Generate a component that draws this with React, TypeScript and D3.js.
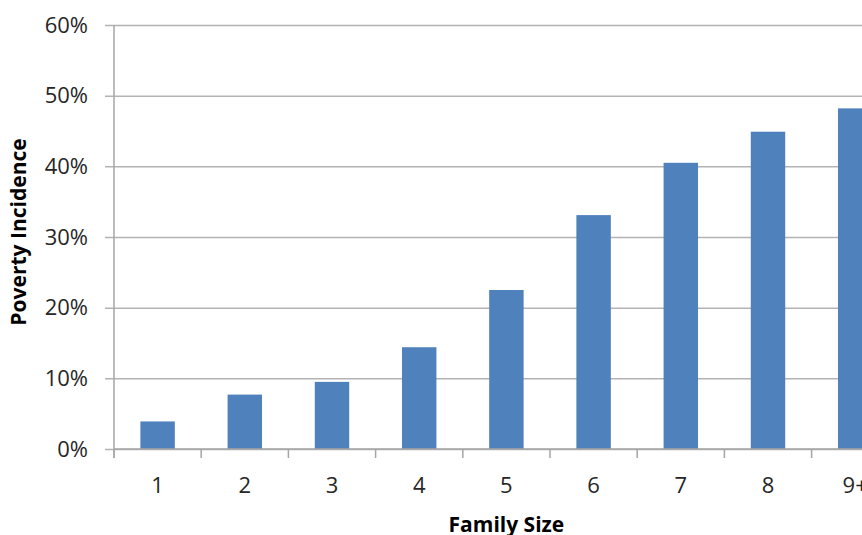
import * as d3 from "d3";
import { useRef, useEffect } from "react";

const familySizes = ["1", "2", "3", "4", "5", "6", "7", "8", "9+"];
const povertyIncidence = [0.039, 0.077, 0.095, 0.144, 0.225, 0.331, 0.405, 0.449, 0.482];
const yTicks = [0, 0.1, 0.2, 0.3, 0.4, 0.5, 0.6];

export default function App() {
  const gx = useRef<SVGGElement | null>(null);
  const gy = useRef<SVGGElement | null>(null);

  const width = 920;
  const height = 560;
  const marginLeft = 114;
  const plotTop = 25;
  const plotBottom = 449;
  const step = 87.2;

  const x = d3.scaleBand(familySizes, [marginLeft, marginLeft + step * familySizes.length]).padding(0);
  const y = d3.scaleLinear([0, 0.6], [plotBottom, plotTop]);
  const barW = x.bandwidth() * 0.395;

  useEffect(() => {
    if (gy.current) {
      const g = d3.select(gy.current);
      g.call(d3.axisLeft(y).tickValues(yTicks).tickFormat(d3.format(".0%")).tickSize(9).tickPadding(17));
      g.select(".domain").remove();
      g.selectAll(".tick line")
        .attr("stroke", "#b3b3b3")
        .attr("stroke-width", 1.5)
        .attr("x1", -9)
        .attr("x2", width);
      g.selectAll(".tick text")
        .attr("fill", "#262626")
        .style("font-family", "'Open Sans', sans-serif")
        .style("font-size", "22px");
    }
  }, [gy]);

  useEffect(() => {
    if (gx.current) {
      const g = d3.select(gx.current);
      g.call(d3.axisBottom(x).tickSize(0).tickPadding(28));
      g.select(".domain").remove();
      g.selectAll(".tick text")
        .attr("fill", "#262626")
        .style("font-family", "'Open Sans', sans-serif")
        .style("font-size", "22px");
    }
  }, [gx]);

  const boundaries = [...familySizes.map((c) => x(c) as number), marginLeft + step * familySizes.length];

  return (
    <svg width={width} height={height} style={{ position: "fixed", left: 0, top: 0, background: "white" }}>
      <g ref={gy} transform={`translate(${marginLeft},0)`} />
      {familySizes.map((c, i) => (
        <rect
          key={c}
          x={(x(c) as number) + (x.bandwidth() - barW) / 2}
          y={y(povertyIncidence[i])}
          width={barW}
          height={y(0) - y(povertyIncidence[i])}
          fill="#4f81bd"
        />
      ))}
      {/* axis lines and category separators */}
      <line x1={marginLeft} x2={marginLeft} y1={plotTop} y2={plotBottom + 9} stroke="#a6a6a6" strokeWidth={1.5} />
      <line x1={marginLeft} x2={width} y1={plotBottom} y2={plotBottom} stroke="#a6a6a6" strokeWidth={1.5} />
      {boundaries.map((b, i) => (
        <line key={i} x1={b} x2={b} y1={plotBottom} y2={plotBottom + 9} stroke="#a6a6a6" strokeWidth={1.5} />
      ))}
      <g ref={gx} transform={`translate(0,${plotBottom})`} />
      <text
        transform={`translate(26,${(plotTop + plotBottom) / 2 - 5}) rotate(-90)`}
        textAnchor="middle"
        style={{ fontFamily: "'Open Sans', sans-serif", fontWeight: "bold", fontSize: "21px" }}
        fill="#000"
      >
        Poverty Incidence
      </text>
      <text
        x={marginLeft + (step * familySizes.length) / 2}
        y={532}
        textAnchor="middle"
        style={{ fontFamily: "'Open Sans', sans-serif", fontWeight: "bold", fontSize: "21px" }}
        fill="#000"
      >
        Family Size
      </text>
    </svg>
  );
}
